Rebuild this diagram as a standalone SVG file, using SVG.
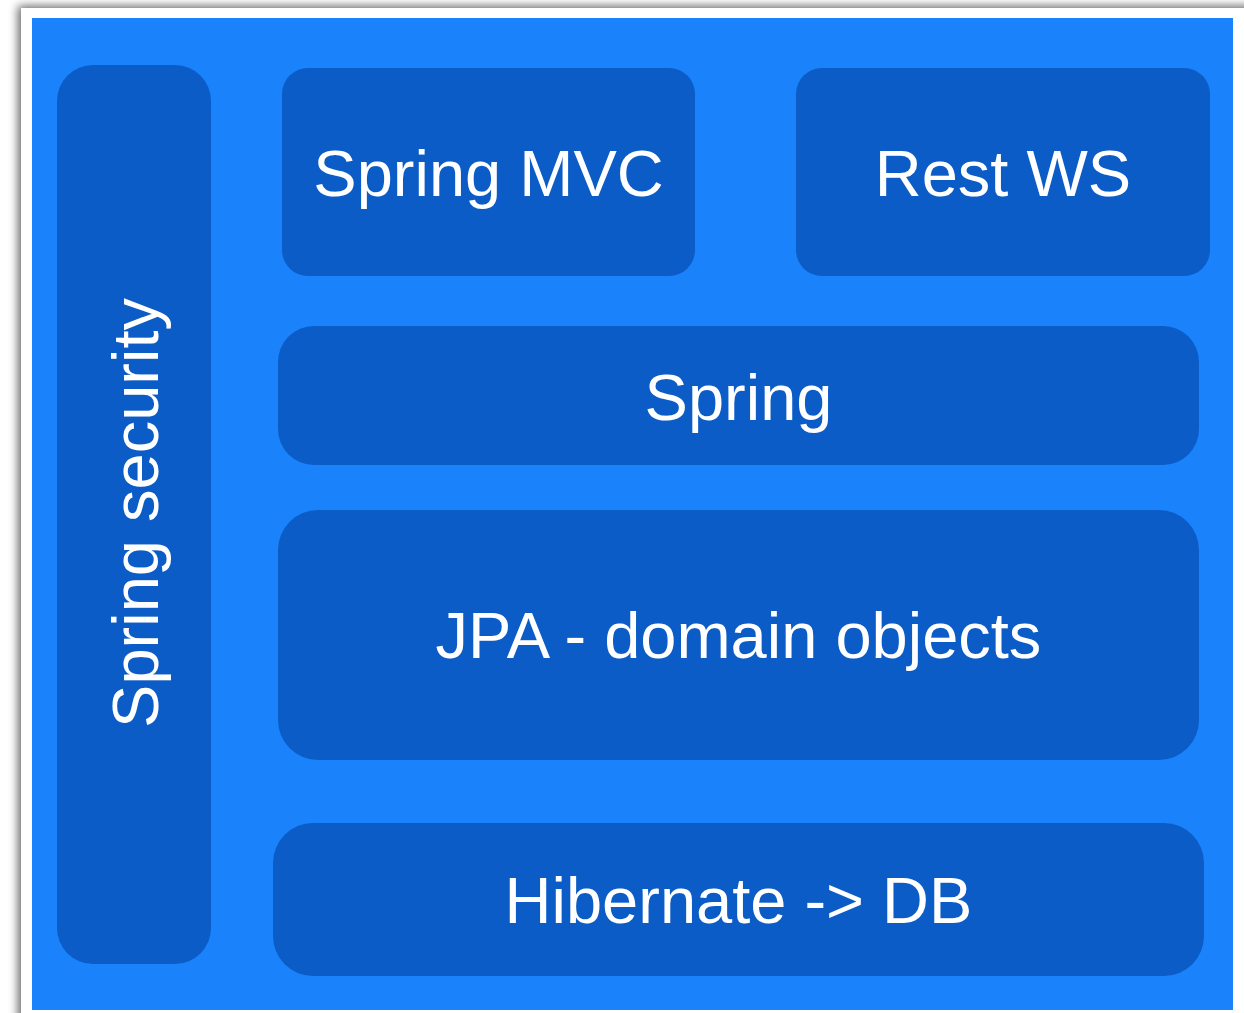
<svg xmlns="http://www.w3.org/2000/svg" width="1244" height="1013" viewBox="0 0 1244 1013">
  <defs>
    <filter id="shadow" x="-5%" y="-5%" width="110%" height="110%">
      <feDropShadow dx="-3" dy="-2" stdDeviation="5" flood-color="#000" flood-opacity="0.6"/>
    </filter>
    <style>
      .node { fill: #0b5cc6; }
      .label { fill: #ffffff; font-family: "Liberation Sans", Arial, sans-serif; font-size: 65px; text-anchor: middle; }
    </style>
  </defs>
  <rect x="0" y="0" width="1244" height="1013" fill="#ffffff"/>
  <rect x="21" y="8" width="1260" height="1040" fill="#ffffff" filter="url(#shadow)"/>
  <rect x="32" y="18" width="1201" height="992" fill="#1a82fb"/>

  <g id="spring-security">
    <rect class="node" x="57" y="65" width="154" height="899" rx="36" ry="36"/>
    <text class="label" transform="translate(158,513) rotate(-90)" x="0" y="0">Spring security</text>
  </g>
  <g id="spring-mvc">
    <rect class="node" x="282" y="68" width="413" height="208" rx="26" ry="26"/>
    <text class="label" x="488.5" y="196">Spring MVC</text>
  </g>
  <g id="rest-ws">
    <rect class="node" x="796" y="68" width="414" height="208" rx="26" ry="26"/>
    <text class="label" x="1003" y="196">Rest WS</text>
  </g>
  <g id="spring">
    <rect class="node" x="278" y="326" width="921" height="139" rx="36" ry="36"/>
    <text class="label" x="738.5" y="420">Spring</text>
  </g>
  <g id="jpa">
    <rect class="node" x="278" y="510" width="921" height="250" rx="40" ry="40"/>
    <text class="label" x="738.5" y="658">JPA - domain objects</text>
  </g>
  <g id="hibernate">
    <rect class="node" x="273" y="823" width="931" height="153" rx="40" ry="40"/>
    <text class="label" x="738.5" y="923">Hibernate -&gt; DB</text>
  </g>
  <g id="connectors"></g>
</svg>
